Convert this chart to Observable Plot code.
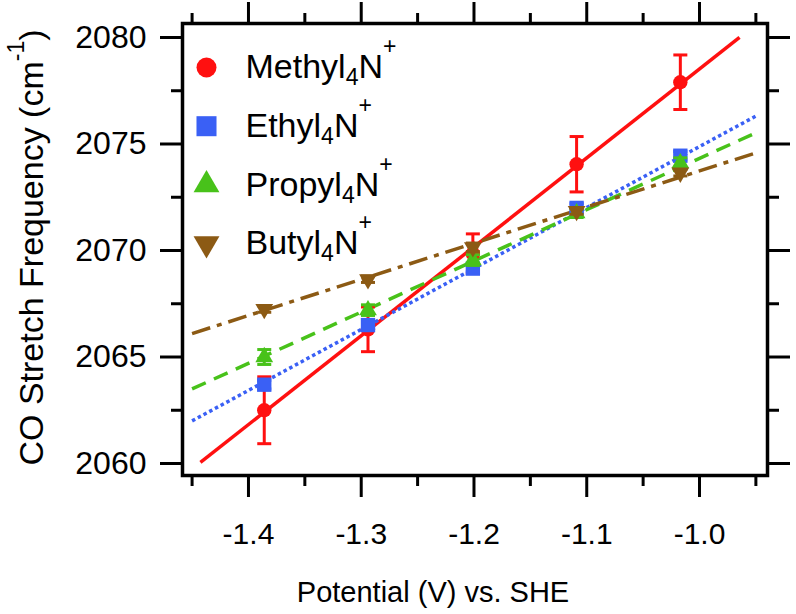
<!DOCTYPE html>
<html><head><meta charset="utf-8">
<script src="https://cdn.jsdelivr.net/npm/d3@7"></script>
<script src="https://cdn.jsdelivr.net/npm/@observablehq/plot@0.6"></script>
<style>body{margin:0;background:#fff} #chart svg{display:block}</style>
</head><body><div id="chart"></div>
<script>
// ---- data ----
const potential = [-1.386, -1.294, -1.201, -1.109, -1.017];
const methylFreq = [2062.5, 2066.3, 2069.85, 2074.05, 2077.9];
const methylErr  = [1.57, 1.05, 0.93, 1.3, 1.28];
const ethylFreq  = [2063.7, 2066.5, 2069.15, 2072.0, 2074.45];
const ethylErr   = [0.2, 0.2, 0.15, 0.2, 0.2];
const propylFreq = [2065.0, 2067.2, 2069.55, 2071.75, 2074.1];
const propylErr  = [0.35, 0.25, 0.25, 0.2, 0.25];
const butylFreq  = [2067.25, 2068.65, 2070.15, 2071.85, 2073.65];
const butylErr   = [0.15, 0.15, 0.2, 0.15, 0.15];

// linear fit lines (end points)
const methylFitX = [-1.4426, -0.9645], methylFitY = [2060.05, 2080.0];
const ethylFitX  = [-1.450, -0.949],  ethylFitY  = [2062.0, 2076.34];
const propylFitX = [-1.450, -0.949],  propylFitY = [2063.5, 2075.55];
const butylFitX  = [-1.450, -0.949],  butylFitY  = [2066.1, 2074.6];

const seriesNames = ["Methyl", "Ethyl", "Propyl", "Butyl"];
const xMajor = [-1.4, -1.3, -1.2, -1.1, -1.0];
const xMinor = [-1.45, -1.35, -1.25, -1.15, -1.05, -0.95];
const yMajor = [2060, 2065, 2070, 2075, 2080];
const yMinor = [2062.5, 2067.5, 2072.5, 2077.5];
const xTitle = "Potential (V) vs. SHE";
const yTitle = "CO Stretch Frequency (cm⁻¹)";

// ---- styles ----
const colors = ["#ff1010", "#3a60f5", "#48c21a", "#8c5a14"];
const dashes = [null, "3.5,3", "15,9", "19,7,5,7"];

const downTriangle = {
  draw(ctx, size) {
    const y = Math.sqrt(size / (Math.sqrt(3) * 3));
    ctx.moveTo(0, 2 * y);
    ctx.lineTo(Math.sqrt(3) * y, -y);
    ctx.lineTo(-Math.sqrt(3) * y, -y);
    ctx.closePath();
  }
};
const cap = { draw(ctx) { ctx.moveTo(-7, 0); ctx.lineTo(7, 0); } };
const symbols = ["circle", "square", "triangle", downTriangle];
const rData = [7.2, 8.1, 6.6, 6.6];
const rLegend = [10, 11.3, 9.6, 9.6];

const freqs = [methylFreq, ethylFreq, propylFreq, butylFreq];
const errs = [methylErr, ethylErr, propylErr, butylErr];
const fitXs = [methylFitX, ethylFitX, propylFitX, butylFitX];
const fitYs = [methylFitY, ethylFitY, propylFitY, butylFitY];

const tables = freqs.map((f, s) => potential.map((x, i) => ({x, y: f[i], lo: f[i] - errs[s][i], hi: f[i] + errs[s][i]})));
const fits = fitXs.map((fx, s) => fx.map((x, i) => ({x, y: fitYs[s][i]})));

const marks = [];
// fit lines
fits.forEach((f, s) => marks.push(Plot.line(f, {x: "x", y: "y", stroke: colors[s], strokeWidth: 3.5, strokeDasharray: dashes[s], strokeLinecap: "butt"})));
// error bars + points
tables.forEach((t, s) => {
  marks.push(Plot.ruleX(t, {x: "x", y1: "lo", y2: "hi", stroke: colors[s], strokeWidth: 3}));
  marks.push(Plot.dot(t, {x: "x", y: "hi", symbol: cap, r: 5, fill: "none", stroke: colors[s], strokeWidth: 3}));
  marks.push(Plot.dot(t, {x: "x", y: "lo", symbol: cap, r: 5, fill: "none", stroke: colors[s], strokeWidth: 3}));
  marks.push(Plot.dot(t, {x: "x", y: "y", symbol: symbols[s], r: rData[s], fill: colors[s], stroke: "none"}));
});
// legend
seriesNames.forEach((name, s) => {
  const dy = 44 + s * 58.7;
  marks.push(Plot.dot([name], {frameAnchor: "top-left", dx: 24, dy, symbol: symbols[s], r: rLegend[s], fill: colors[s], stroke: "none"}));
  marks.push(Plot.text([name + "₄N⁺"], {text: d => d, frameAnchor: "top-left", dx: 63, dy, textAnchor: "start", lineAnchor: "middle", fontSize: 34, fill: "black"}));
});
// frame & axes
const axisStyle = {stroke: "black", strokeWidth: 3, fontSize: 32, fill: "black", label: null};
marks.push(
  Plot.frame({stroke: "black", strokeWidth: 3.5}),
  Plot.axisX(xMajor, {...axisStyle, anchor: "bottom", tickSize: 22, tickPadding: 25, fontSize: 30, tickFormat: d => d.toFixed(1)}),
  Plot.axisX(xMinor, {...axisStyle, anchor: "bottom", tickSize: 11, text: null}),
  Plot.axisX(xMajor, {...axisStyle, anchor: "top", tickSize: 22, text: null}),
  Plot.axisX(xMinor, {...axisStyle, anchor: "top", tickSize: 11, text: null}),
  Plot.axisY(yMajor, {...axisStyle, anchor: "left", tickSize: 22, tickPadding: 14, tickFormat: d => String(d)}),
  Plot.axisY(yMinor, {...axisStyle, anchor: "left", tickSize: 11, text: null}),
  Plot.axisY(yMajor, {...axisStyle, anchor: "right", tickSize: 22, text: null}),
  Plot.axisY(yMinor, {...axisStyle, anchor: "right", tickSize: 11, text: null}),
  Plot.text([xTitle], {text: d => d, frameAnchor: "bottom", dx: -42, dy: 117, fontSize: 29, fill: "black", textAnchor: "middle", lineAnchor: "middle"}),
  Plot.text([yTitle], {text: d => d, frameAnchor: "left", dx: -150, dy: -2, rotate: -90, fontSize: 34, fill: "black", textAnchor: "middle", lineAnchor: "middle"})
);

const chart = Plot.plot({
  width: 796, height: 614,
  marginLeft: 182, marginRight: 29, marginTop: 23, marginBottom: 139,
  style: {fontFamily: "'Liberation Sans', Arial, Helvetica, sans-serif", background: "white", color: "black"},
  x: {domain: [-1.4585, -0.9397]},
  y: {domain: [2059.437, 2080.657]},
  marks
});

// rich text: subscripts / superscripts
d3.select(chart).selectAll("text").each(function () {
  const el = d3.select(this);
  const t = this.textContent;
  let m = t.match(/^(\w+)₄N⁺$/);
  if (m) {
    el.text(null);
    el.append("tspan").text(m[1]);
    el.append("tspan").attr("font-size", 23).attr("dy", 7).text("4");
    el.append("tspan").attr("dy", -7).text("N");
    el.append("tspan").attr("font-size", 23).attr("dy", -24).text("+");
    return;
  }
  if (t === yTitle) {
    el.text(null);
    el.append("tspan").text("CO Stretch Frequency (cm");
    el.append("tspan").attr("font-size", 23).attr("dy", -19).text("-1");
    el.append("tspan").attr("dy", 19).text(")");
  }
});

document.getElementById("chart").appendChild(chart);
</script>
</body></html>
